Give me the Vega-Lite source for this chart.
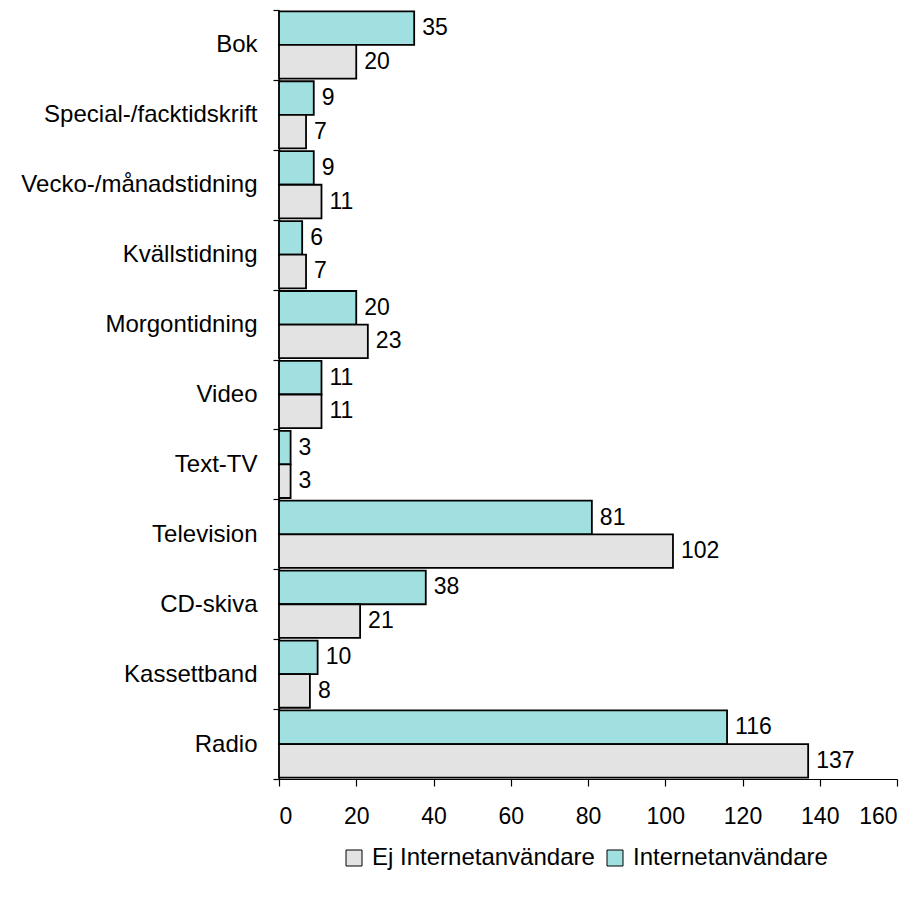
{
  "$schema": "https://vega.github.io/schema/vega-lite/v6.json",
  "width": 618,
  "height": 769,
  "autosize": {"type": "none"},
  "padding": {"left": 279, "top": 10, "right": 26, "bottom": 120},
  "background": "white",
  "config": {
    "view": {"stroke": null},
    "font": "Liberation Sans",
    "axis": {"labelFont": "Liberation Sans", "labelColor": "black", "domainColor": "black", "tickColor": "black", "grid": false, "title": null}
  },
  "data": {
    "values": [
      {"kategori": "Bok", "grupp": "Internetanvändare", "varde": 35},
      {"kategori": "Bok", "grupp": "Ej Internetanvändare", "varde": 20},
      {"kategori": "Special-/facktidskrift", "grupp": "Internetanvändare", "varde": 9},
      {"kategori": "Special-/facktidskrift", "grupp": "Ej Internetanvändare", "varde": 7},
      {"kategori": "Vecko-/månadstidning", "grupp": "Internetanvändare", "varde": 9},
      {"kategori": "Vecko-/månadstidning", "grupp": "Ej Internetanvändare", "varde": 11},
      {"kategori": "Kvällstidning", "grupp": "Internetanvändare", "varde": 6},
      {"kategori": "Kvällstidning", "grupp": "Ej Internetanvändare", "varde": 7},
      {"kategori": "Morgontidning", "grupp": "Internetanvändare", "varde": 20},
      {"kategori": "Morgontidning", "grupp": "Ej Internetanvändare", "varde": 23},
      {"kategori": "Video", "grupp": "Internetanvändare", "varde": 11},
      {"kategori": "Video", "grupp": "Ej Internetanvändare", "varde": 11},
      {"kategori": "Text-TV", "grupp": "Internetanvändare", "varde": 3},
      {"kategori": "Text-TV", "grupp": "Ej Internetanvändare", "varde": 3},
      {"kategori": "Television", "grupp": "Internetanvändare", "varde": 81},
      {"kategori": "Television", "grupp": "Ej Internetanvändare", "varde": 102},
      {"kategori": "CD-skiva", "grupp": "Internetanvändare", "varde": 38},
      {"kategori": "CD-skiva", "grupp": "Ej Internetanvändare", "varde": 21},
      {"kategori": "Kassettband", "grupp": "Internetanvändare", "varde": 10},
      {"kategori": "Kassettband", "grupp": "Ej Internetanvändare", "varde": 8},
      {"kategori": "Radio", "grupp": "Internetanvändare", "varde": 116},
      {"kategori": "Radio", "grupp": "Ej Internetanvändare", "varde": 137}
    ]
  },
  "encoding": {
    "y": {
      "field": "kategori",
      "type": "nominal",
      "sort": ["Bok", "Special-/facktidskrift", "Vecko-/månadstidning", "Kvällstidning", "Morgontidning", "Video", "Text-TV", "Television", "CD-skiva", "Kassettband", "Radio"],
      "scale": {"paddingInner": 0, "paddingOuter": 0},
      "axis": {"tickBand": "extent", "tickSize": 6, "labelFontSize": 24, "labelPadding": 16, "labelLimit": 300, "domainWidth": 1.5, "tickWidth": 1.2}
    },
    "yOffset": {
      "field": "grupp",
      "type": "nominal",
      "scale": {"domain": ["Internetanvändare", "Ej Internetanvändare"], "paddingInner": 0, "paddingOuter": 0.04}
    },
    "x": {
      "field": "varde",
      "type": "quantitative",
      "scale": {"domain": [0, 160], "nice": false},
      "axis": {"values": [0, 20, 40, 60, 80, 100, 120, 140, 160], "tickSize": 7, "labelFontSize": 23, "labelPadding": 19, "domainWidth": 1.2, "tickWidth": 1.2}
    }
  },
  "layer": [
    {
      "mark": {"type": "bar", "stroke": "black", "strokeWidth": 1.8},
      "encoding": {
        "color": {
          "field": "grupp",
          "type": "nominal",
          "scale": {"domain": ["Ej Internetanvändare", "Internetanvändare"], "range": ["#E3E3E3", "#A0E0E0"]},
          "legend": {
            "orient": "none",
            "legendX": 63,
            "legendY": 836,
            "direction": "horizontal",
            "title": null,
            "symbolType": "square",
            "symbolSize": 256,
            "symbolStrokeColor": "black",
            "symbolStrokeWidth": 1,
            "labelFontSize": 24,
            "labelFont": "Liberation Sans",
            "labelColor": "black",
            "labelLimit": 400,
            "labelOffset": 6,
            "columnPadding": 8
          }
        }
      }
    },
    {
      "mark": {"type": "text", "align": "left", "baseline": "middle", "dx": 8, "fontSize": 23, "font": "Liberation Sans", "color": "black"},
      "encoding": {"text": {"field": "varde", "type": "quantitative"}}
    }
  ]
}
